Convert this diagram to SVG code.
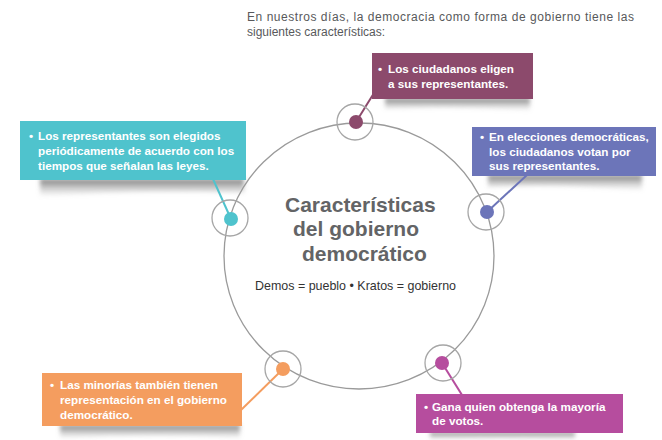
<svg xmlns="http://www.w3.org/2000/svg" width="662" height="440" viewBox="0 0 662 440">
<defs>
<linearGradient id="sh" x1="0" y1="0" x2="0" y2="1">
<stop offset="0" stop-color="#6e6e6e" stop-opacity="0.9"/>
<stop offset="1" stop-color="#aaaaaa" stop-opacity="0"/>
</linearGradient>
<filter id="blur" x="-10%" y="-50%" width="120%" height="200%"><feGaussianBlur stdDeviation="2"/></filter>
<style>
.box text{font-family:"Liberation Sans",Arial,sans-serif;font-weight:bold;font-size:11.7px;fill:#ffffff}
.ring{fill:none;stroke:#a6a6a6;stroke-width:1.3}
.big{fill:none;stroke:#9a9a9a;stroke-width:1.3}
.shadow{fill:url(#sh);filter:url(#blur)}
.intro{font-family:"Liberation Sans",Arial,sans-serif;font-size:12px;fill:#58595b}
.title{font-family:"Liberation Sans",Arial,sans-serif;font-weight:bold;font-size:21px;fill:#636466}
.sub{font-family:"Liberation Sans",Arial,sans-serif;font-size:13px;fill:#333333}
.con{stroke-width:2;fill:none}
</style>
</defs>
<rect width="662" height="440" fill="#ffffff"/>

<g id="intro">
<text class="intro" x="247" y="21" textLength="387" lengthAdjust="spacing">En nuestros días, la democracia como forma de gobierno tiene las</text>
<text class="intro" x="247" y="36">siguientes características:</text>
</g>

<g id="shadows">
<path class="shadow" d="M385 98 H530 V111 Q460 105 385 109 Z"/>
<path class="shadow" d="M40 179 H244 V193 Q140 189 40 197 Z"/>
<path class="shadow" d="M488 175 H642 V191 Q560 183 488 187 Z"/>
<path class="shadow" d="M60 425 H240 V438 Q150 433 60 439 Z"/>
<path class="shadow" d="M430 432 H575 V440 Q500 437 430 440 Z"/>
</g>

<g id="center">
<ellipse class="big" cx="359" cy="256" rx="135" ry="133"/>
<text class="title" x="285" y="212">Características</text>
<text class="title" x="293" y="236">del gobierno</text>
<text class="title" x="302" y="261">democrático</text>
<text class="sub" x="255" y="290" textLength="201" lengthAdjust="spacingAndGlyphs">Demos = pueblo • Kratos = gobierno</text>
</g>

<g id="connectors">
<line class="con" stroke="#8c4a6c" x1="356" y1="122" x2="374" y2="93"/>
<line class="con" stroke="#4fc3cd" x1="231" y1="219" x2="213" y2="179"/>
<line class="con" stroke="#6c75b9" x1="487" y1="212" x2="527" y2="175"/>
<line class="con" stroke="#f49d5f" x1="283" y1="369" x2="241" y2="410"/>
<line class="con" stroke="#b64d9e" x1="442" y1="363" x2="462" y2="395"/>
</g>

<g id="node-top" class="box">
<circle class="ring" cx="355" cy="122" r="18"/>
<circle cx="356" cy="122" r="7" fill="#8c4a6c"/>
<rect x="372" y="53" width="161" height="46" fill="#8c4a6c"/>
<text x="378" y="73">•</text>
<text x="388" y="73">Los ciudadanos eligen</text>
<text x="388" y="88">a sus representantes.</text>
</g>

<g id="node-left" class="box">
<circle class="ring" cx="230" cy="218" r="18"/>
<circle cx="231" cy="219" r="7" fill="#4fc3cd"/>
<rect x="20" y="121" width="226" height="59" fill="#4fc3cd"/>
<text x="29" y="140">•</text>
<text x="38" y="140">Los representantes son elegidos</text>
<text x="38" y="155">periódicamente de acuerdo con los</text>
<text x="38" y="170">tiempos que señalan las leyes.</text>
</g>

<g id="node-right" class="box">
<circle class="ring" cx="486" cy="212" r="18"/>
<circle cx="487" cy="212" r="7" fill="#6c75b9"/>
<rect x="472" y="127" width="184" height="49" fill="#6c75b9"/>
<text x="480" y="141">•</text>
<text x="489" y="141">En elecciones democráticas,</text>
<text x="489" y="156">los ciudadanos votan por</text>
<text x="489" y="170">sus representantes.</text>
</g>

<g id="node-bottom-left" class="box">
<circle class="ring" cx="283" cy="369" r="18"/>
<circle cx="283" cy="369" r="7" fill="#f49d5f"/>
<rect x="42" y="373" width="200" height="53" fill="#f49d5f"/>
<text x="50" y="389">•</text>
<text x="60" y="389">Las minorías también tienen</text>
<text x="60" y="404">representación en el gobierno</text>
<text x="60" y="419">democrático.</text>
</g>

<g id="node-bottom-right" class="box">
<circle class="ring" cx="443" cy="363" r="18"/>
<circle cx="442" cy="363" r="7" fill="#b64d9e"/>
<rect x="416" y="394" width="207" height="39" fill="#b64d9e"/>
<text x="424" y="411">•</text>
<text x="432" y="411">Gana quien obtenga la mayoría</text>
<text x="432" y="425">de votos.</text>
</g>
</svg>
